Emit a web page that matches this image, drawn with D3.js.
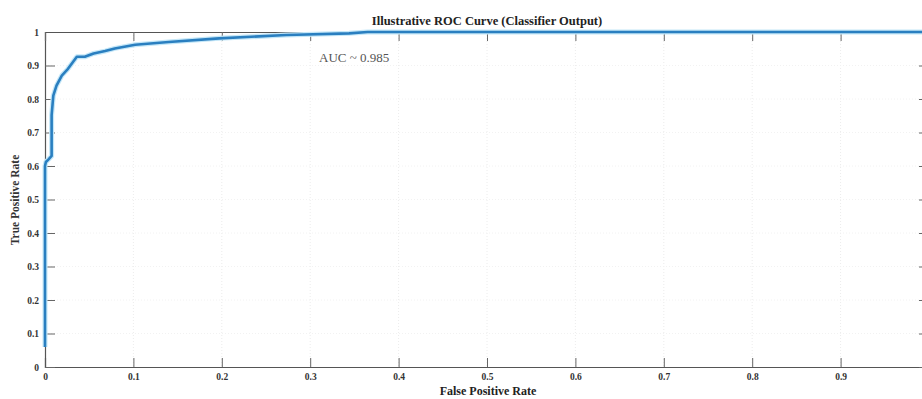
<!DOCTYPE html>
<html lang="en">
<head>
    <meta charset="utf-8">
    <title>ROC Curve</title>
    <script src="https://d3js.org/d3.v7.min.js"></script>
    <style>
        body { margin: 0; background: #fff; }
        text { font-family: "Liberation Serif", "Times New Roman", serif; }
    </style>
</head>
<body>
    <div id="my_dataviz"></div>
    <script>
        // ROC points
        const fpr = [0, 0, 0.001, 0.004, 0.0075, 0.0075, 0.0094, 0.013, 0.019, 0.026, 0.036, 0.045, 0.055, 0.068, 0.079, 0.102, 0.14, 0.197, 0.273, 0.344, 0.365, 1.0];
        const tpr = [0.06, 0.6, 0.612, 0.62, 0.63, 0.752, 0.81, 0.84, 0.87, 0.89, 0.926, 0.926, 0.936, 0.943, 0.951, 0.962, 0.97, 0.981, 0.991, 0.996, 1.0, 1.0];
        const xTicks = [0, 0.1, 0.2, 0.3, 0.4, 0.5, 0.6, 0.7, 0.8, 0.9, 1];
        const yTicks = [0, 0.1, 0.2, 0.3, 0.4, 0.5, 0.6, 0.7, 0.8, 0.9, 1];
        const title = "Illustrative ROC Curve (Classifier Output)";
        const xLabel = "False Positive Rate";
        const yLabel = "True Positive Rate";
        const aucText = "AUC ~ 0.985";

        const W = 922, H = 399;
        const margin = { top: 32, right: -7, bottom: 32, left: 45 },
            width = W - margin.left - margin.right,
            height = H - margin.top - margin.bottom;

        const svg = d3.select("#my_dataviz")
            .append("svg")
            .attr("width", W)
            .attr("height", H);

        const g = svg.append("g")
            .attr("transform", `translate(${margin.left},${margin.top})`);

        const x = d3.scaleLinear().domain([0, 1]).range([0, width]);
        const y = d3.scaleLinear().domain([0, 1]).range([height, 0]);

        // faint grid
        g.append("g")
            .selectAll("line")
            .data(xTicks.slice(1, -1))
            .join("line")
            .attr("x1", d => x(d)).attr("x2", d => x(d))
            .attr("y1", 0).attr("y2", height)
            .attr("stroke", "#ececec").attr("stroke-dasharray", "1,2");
        g.append("g")
            .selectAll("line")
            .data(yTicks.slice(1, -1))
            .join("line")
            .attr("x1", 0).attr("x2", width)
            .attr("y1", d => y(d)).attr("y2", d => y(d))
            .attr("stroke", "#f2f2f2").attr("stroke-dasharray", "1,2");

        const fmt = d => d === 0 ? "0" : d === 1 ? "1" : d3.format(".1f")(d);

        // axes with inward ticks
        const xAxis = g.append("g")
            .attr("transform", `translate(0,${height})`)
            .call(d3.axisBottom(x).tickValues(xTicks.slice(0, -1)).tickSize(-9).tickPadding(6).tickFormat(fmt));
        const yAxis = g.append("g")
            .call(d3.axisLeft(y).tickValues(yTicks).tickSize(-10).tickPadding(6).tickFormat(fmt));
        const xTop = g.append("g")
            .call(d3.axisTop(x).tickValues(xTicks).tickSize(-9).tickFormat(""));
        const yRight = g.append("g")
            .attr("transform", `translate(${width},0)`)
            .call(d3.axisRight(y).tickValues(yTicks).tickSize(-10).tickFormat(""));

        [xAxis, yAxis, xTop, yRight].forEach(a => {
            a.select(".domain").attr("stroke", "#555").attr("stroke-width", 1.2);
            a.selectAll(".tick line").attr("stroke", "#666");
            a.selectAll("text")
                .attr("font-family", "'Liberation Serif', serif")
                .attr("font-weight", "bold")
                .attr("font-size", 9.5)
                .attr("fill", "#333");
        });

        // ROC curve
        const pts = fpr.map((f, i) => ({ f: f, t: tpr[i] }));
        const line = d3.line().x(d => x(d.f)).y(d => y(d.t));
        g.append("path")
            .datum(pts)
            .attr("d", line)
            .attr("fill", "none")
            .attr("stroke", "#c4e7f8")
            .attr("stroke-width", 5)
            .attr("stroke-linejoin", "round");
        g.append("path")
            .datum(pts)
            .attr("d", line)
            .attr("fill", "none")
            .attr("stroke", "#2a7fc0")
            .attr("stroke-width", 2.6)
            .attr("stroke-linejoin", "round");

        // texts
        svg.append("text")
            .attr("x", 487).attr("y", 25)
            .attr("text-anchor", "middle")
            .attr("font-weight", "bold")
            .attr("font-size", 12.5)
            .attr("fill", "#222")
            .text(title);

        svg.append("text")
            .attr("x", 488).attr("y", 395)
            .attr("text-anchor", "middle")
            .attr("font-weight", "bold")
            .attr("font-size", 12)
            .attr("fill", "#222")
            .text(xLabel);

        svg.append("text")
            .attr("transform", "translate(19,200) rotate(-90)")
            .attr("text-anchor", "middle")
            .attr("font-weight", "bold")
            .attr("font-size", 11.5)
            .attr("fill", "#333")
            .text(yLabel);

        g.append("text")
            .attr("x", x(0.31)).attr("y", y(0.91))
            .attr("font-size", 13)
            .attr("fill", "#555")
            .text(aucText);
    </script>
</body>
</html>
